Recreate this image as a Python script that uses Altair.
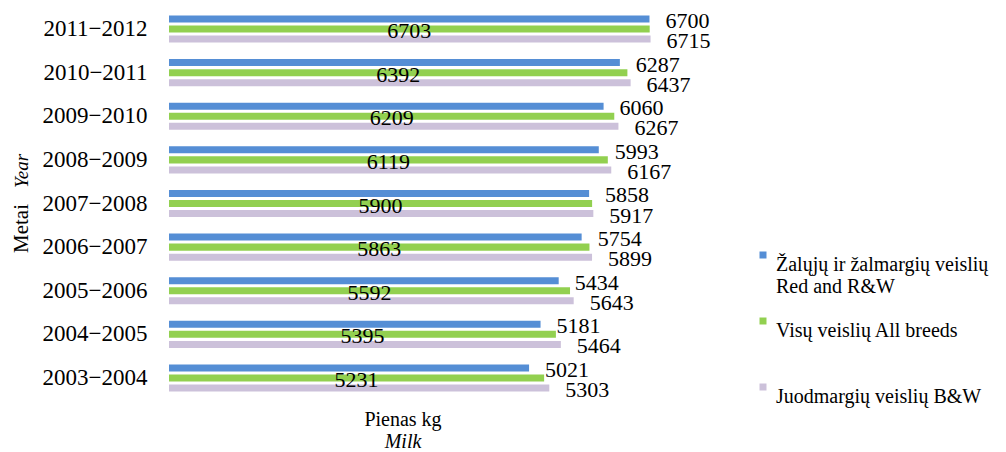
import altair as alt
import pandas as pd

years = ["2011−2012", "2010−2011", "2009−2010", "2008−2009", "2007−2008",
         "2006−2007", "2005−2006", "2004−2005", "2003−2004"]
series = ["Žalųjų ir žalmargių veislių|Red and R&W",
          "Visų veislių All breeds| ",
          "Juodmargių veislių B&W| "]
red_rw = [6700, 6287, 6060, 5993, 5858, 5754, 5434, 5181, 5021]
all_breeds = [6703, 6392, 6209, 6119, 5900, 5863, 5592, 5395, 5231]
bw = [6715, 6437, 6267, 6167, 5917, 5899, 5643, 5464, 5303]
colors = ["#558ED5", "#92D050", "#CCC1DA"]

rows = []
for i, y in enumerate(years):
    for s, vals in zip(series, [red_rw, all_breeds, bw]):
        rows.append({"year": y, "series": s, "value": vals[i]})
df = pd.DataFrame(rows)

FONT = "Liberation Serif"

y_enc = alt.Y("year:N", sort=years,
              scale=alt.Scale(paddingInner=0.31, paddingOuter=0.137),
              axis=alt.Axis(title=None, domain=False, ticks=False, grid=False,
                            labelPadding=22, labelFontSize=23, labelFont=FONT,
                            labelColor="black"))
yoff = alt.YOffset("series:N", sort=series,
                   scale=alt.Scale(paddingInner=0.3, paddingOuter=0.15))
x_scale = alt.Scale(domain=[0, 7000], nice=False)

bars = alt.Chart(df).mark_bar().encode(
    x=alt.X("value:Q", scale=x_scale, axis=None),
    y=y_enc,
    yOffset=yoff,
    color=alt.Color("series:N", sort=series,
                    scale=alt.Scale(domain=series, range=colors),
                    legend=alt.Legend(title=None, orient="none", legendX=584, legendY=237,
                                      direction="vertical", symbolType="square",
                                      symbolSize=49, symbolStrokeWidth=0,
                                      labelFont=FONT, labelFontSize=20,
                                      labelColor="black", labelLimit=400,
                                      labelExpr="split(datum.label, '|')",
                                      labelBaseline="top", labelOffset=3,
                                      rowPadding=14, padding=0)),
)

outer = alt.Chart(df).transform_filter(
    alt.datum.series != series[1]
).mark_text(align="left", baseline="middle", dx=16, dy=2, font=FONT,
            fontSize=22, color="black").encode(
    x=alt.X("value:Q", scale=x_scale, axis=None),
    y=y_enc,
    yOffset=yoff,
    text="value:Q",
)

inner = alt.Chart(df).transform_filter(
    alt.datum.series == series[1]
).transform_calculate(half="datum.value / 2").mark_text(
    align="center", baseline="middle", dy=2, font=FONT, fontSize=22, color="black"
).encode(
    x=alt.X("half:Q", scale=x_scale, axis=None),
    y=y_enc,
    yOffset=yoff,
    text="value:Q",
)

def label(txt, x, y, angle=0, style="normal", align="center", size=20):
    return alt.Chart(pd.DataFrame({"t": [txt]})).mark_text(
        font=FONT, fontSize=size, fontStyle=style, angle=angle, align=align,
        baseline="middle", color="black"
    ).encode(text="t:N", x=alt.value(x), y=alt.value(y))

t1 = label("Metai", -147, 245, angle=270, align="left", size=21)
t2 = label("Year", -147, 180, angle=270, align="left", style="italic", size=19)
t3 = label("Pienas kg", 234, 412)
t4 = label("Milk", 234, 434, style="italic")

chart = alt.layer(bars, outer, inner, t1, t2, t3, t4).properties(
    width=502, height=391,
    autosize=alt.AutoSizeParams(type="none"),
    padding={"left": 161, "top": 0, "right": 327, "bottom": 52},
).configure_view(stroke=None)

chart.save("out.html", embed_options={"renderer": "svg", "actions": False})
